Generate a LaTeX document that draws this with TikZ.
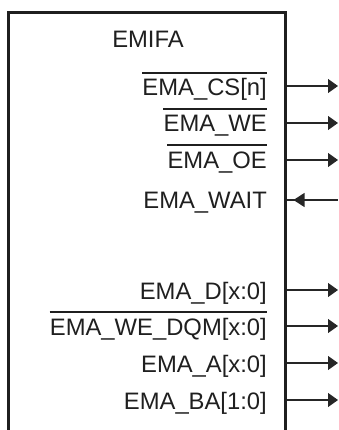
\documentclass[tikz,border=0pt]{standalone}
\usepackage{fontspec}
\setmainfont{Liberation Sans}
\usetikzlibrary{arrows.meta}
\tikzset{
  lbl/.style={inner sep=0pt, anchor=base east, font=\fontsize{23.8}{27}\selectfont, text=black!88},
  boxline/.style={line width=3pt, draw=black!88},
  pin/.style={line width=1.1pt, draw=black!85},
  tipout/.style={-{Triangle[length=10pt,width=14pt]}},
  tipin/.style={{Triangle[length=11pt,width=14pt]}-},
  ovl/.style={line width=1.6pt, draw=black!88}
}
\begin{document}
\begin{tikzpicture}[x=1pt,y=-1pt]
\useasboundingbox (0,0) rectangle (338,430);
% box (open at the bottom)
\draw[boxline] (8.5,432) -- (8.5,12.5) -- (285,12.5) -- (285,432);
\node[inner sep=0pt, anchor=base, font=\fontsize{23.8}{27}\selectfont, text=black!88] (title) at (148,48) {EMIFA};
% labels
\node[lbl] (cs)   at (267,96)  {EMA\_CS[n]};
\node[lbl] (we)   at (267,132) {EMA\_WE};
\node[lbl] (oe)   at (267,168) {EMA\_OE};
\node[lbl] (wait) at (267,208) {EMA\_WAIT};
\node[lbl] (d)    at (267,299) {EMA\_D[x:0]};
\node[lbl] (dqm)  at (267,335) {EMA\_WE\_DQM[x:0]};
\node[lbl] (a)    at (267,372) {EMA\_A[x:0]};
\node[lbl] (ba)   at (267,409) {EMA\_BA[1:0]};
% overlines
\foreach \n in {cs,we,oe,dqm}{
  \draw[ovl] ([yshift=23pt]\n.base west) -- ([yshift=23pt]\n.base east);
}
% pin coordinates
\foreach \n/\y in {cs/86,we/123,oe/160,wait/200,d/290,dqm/326,a/363,ba/400}{
  \coordinate (\n-in) at (286.5,\y);
  \coordinate (\n-out) at (338,\y);
}
\foreach \n in {cs,we,oe,d,dqm,a,ba}{
  \draw[pin,tipout] (\n-in) -- (\n-out);
}
\draw[pin] (wait-in) -- (wait-out);
\draw[pin,tipin,shorten <=7pt] (wait-in) -- (wait-out);
\end{tikzpicture}
\end{document}
